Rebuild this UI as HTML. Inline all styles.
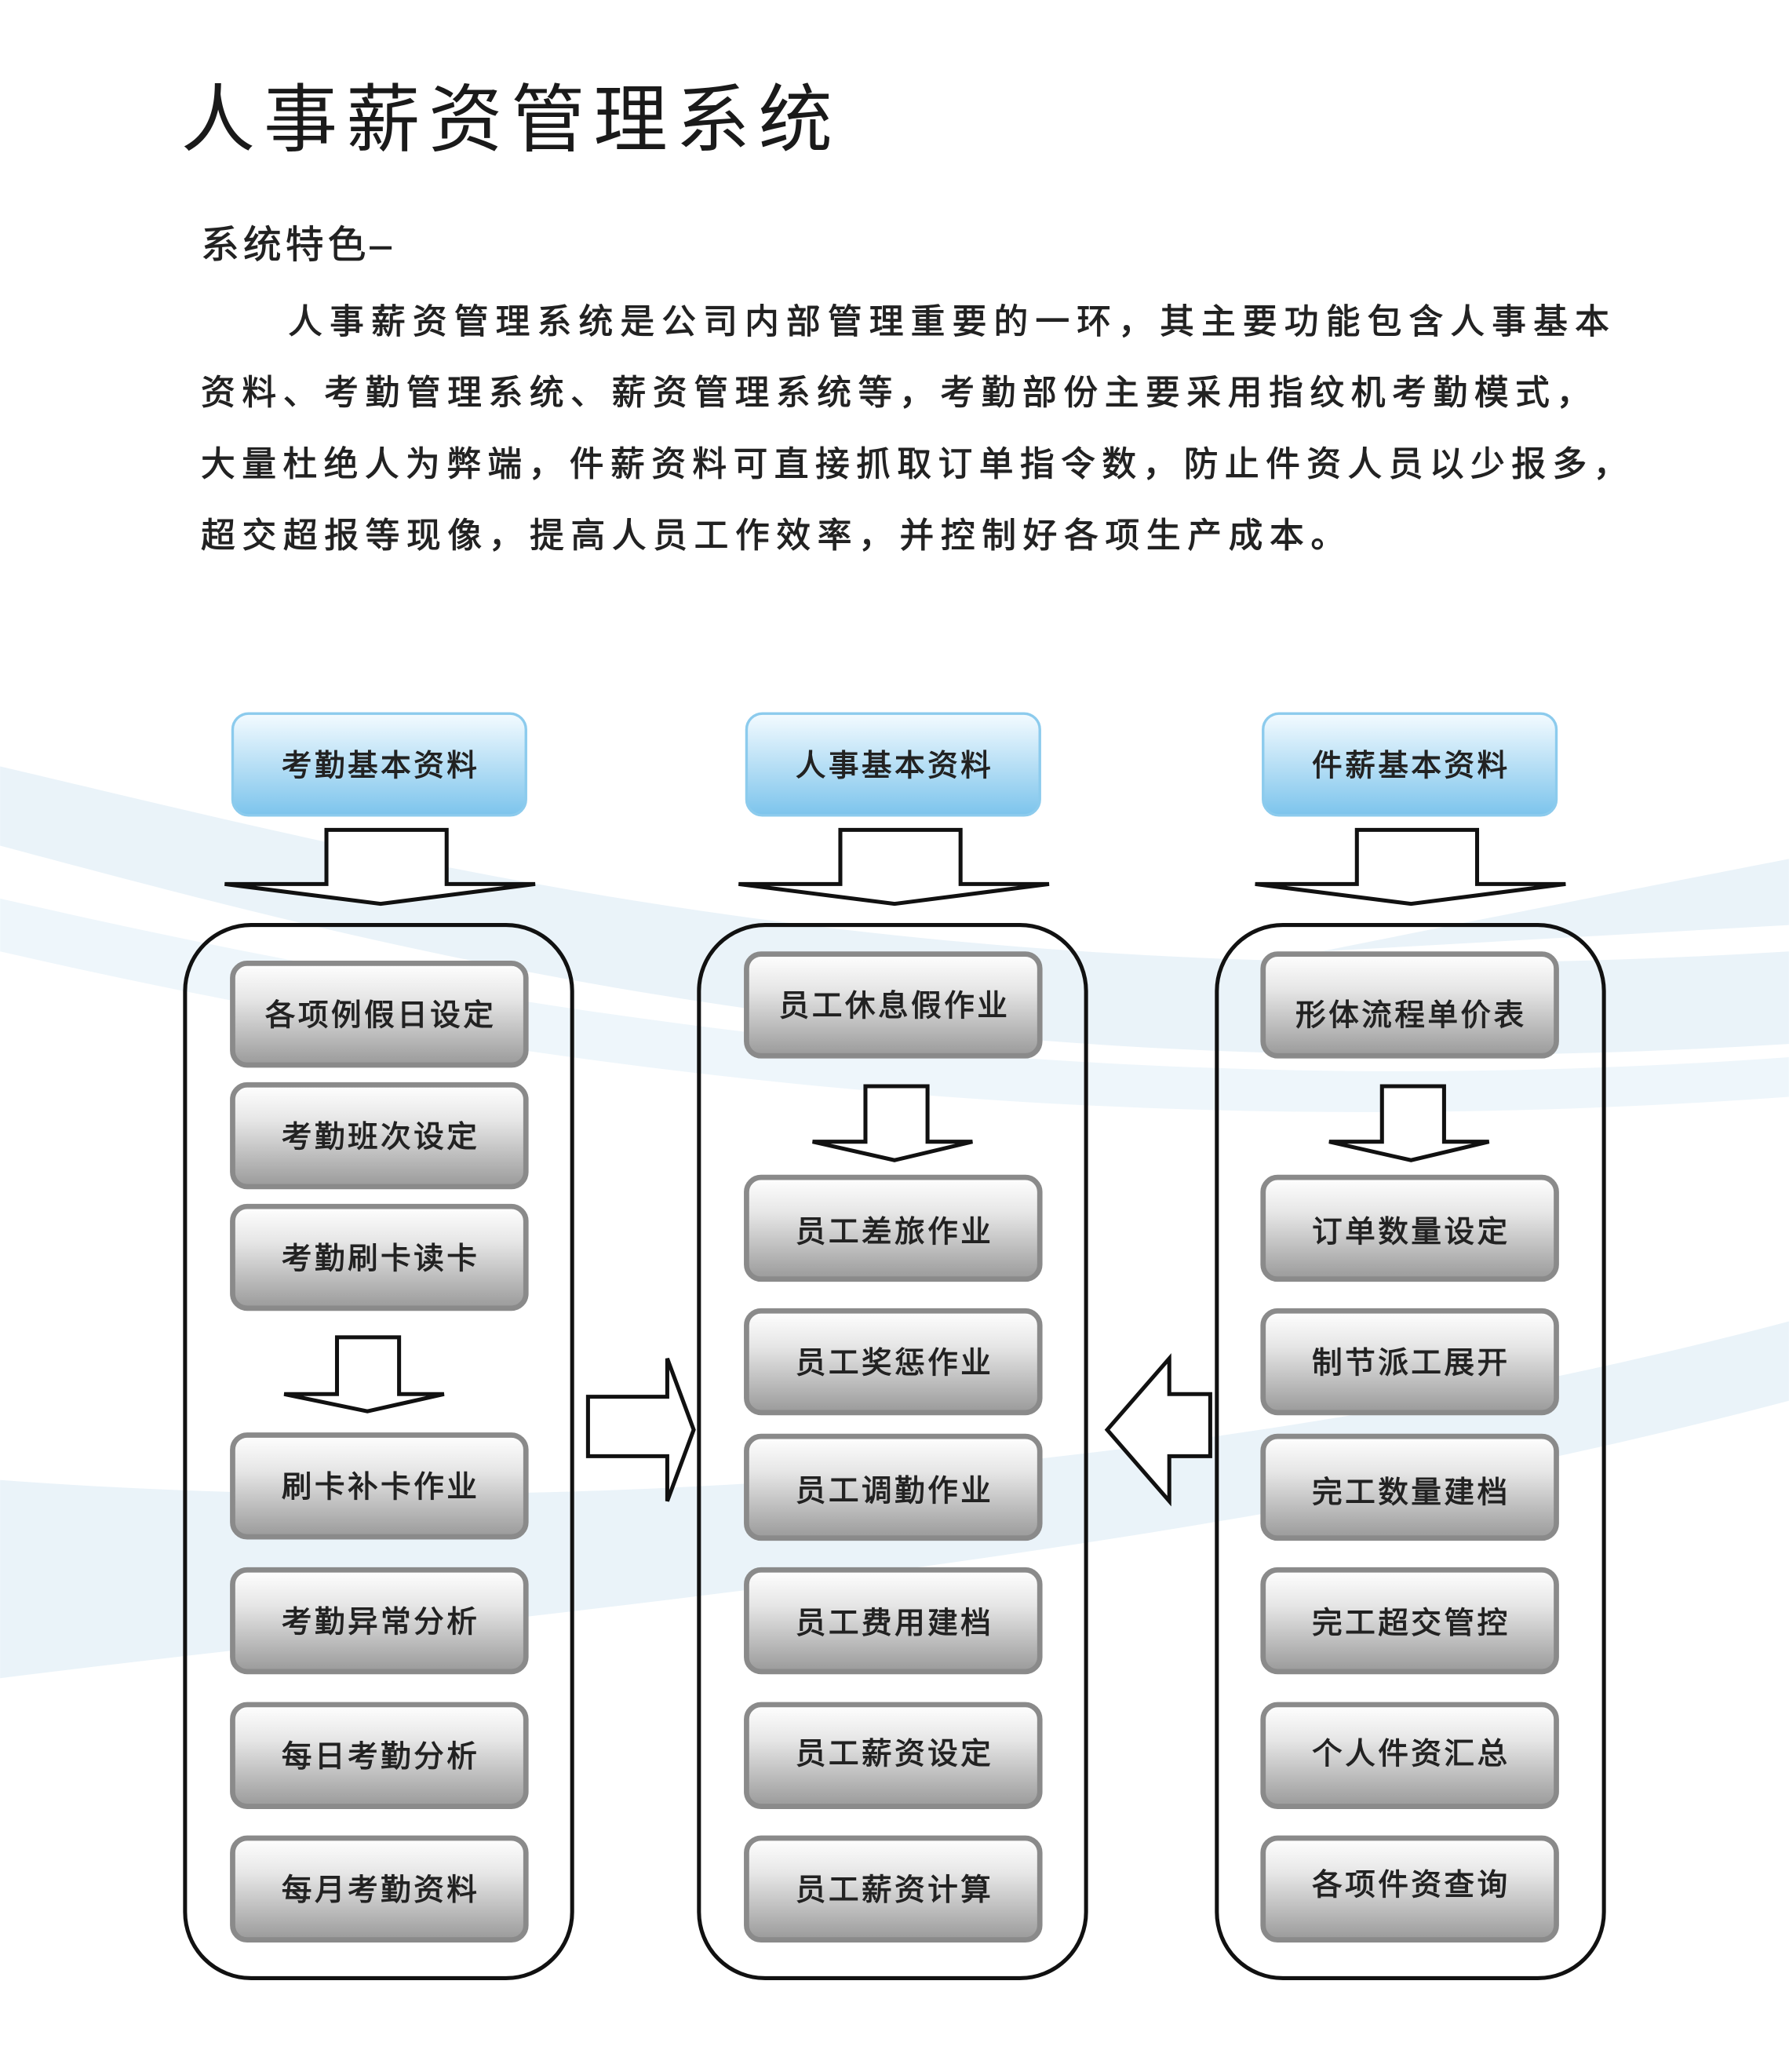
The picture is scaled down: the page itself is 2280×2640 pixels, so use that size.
<!DOCTYPE html>
<html><head><meta charset="utf-8"><style>
html,body{margin:0;padding:0;background:#fff;}
svg{display:block;}
text{font-family:"Liberation Sans","Noto Sans CJK SC",sans-serif;}
</style></head><body>
<svg width="2280" height="2640" viewBox="0 0 1354 1568" xmlns="http://www.w3.org/2000/svg">
<defs>
<linearGradient id="bl" x1="0" y1="0" x2="0" y2="1"><stop offset="0" stop-color="#f4fbff"/><stop offset="1" stop-color="#7cc4ec"/></linearGradient>
<linearGradient id="gr" x1="0" y1="0" x2="0" y2="1"><stop offset="0" stop-color="#ffffff"/><stop offset="0.35" stop-color="#e6e6e6"/><stop offset="1" stop-color="#9a9a9a"/></linearGradient>
</defs>
<path d="M0 580 C300 650 700 760 1354 720 L1354 790 C700 830 300 720 0 640 Z" fill="#eaf3f9"/>
<path d="M0 680 C350 760 800 840 1354 800 L1354 830 C800 870 350 800 0 720 Z" fill="#eef6fb"/>
<path d="M0 1120 C400 1150 900 1120 1354 1000 L1354 1060 C900 1180 400 1220 0 1270 Z" fill="#eaf3f9"/>
<path d="M1354 650 C1200 680 1100 700 1000 720 L1354 700 Z" fill="#eaf3f9"/>
<text x="137" y="110" font-size="56" fill="#1a1a1a" textLength="493" lengthAdjust="spacing">人事薪资管理系统</text>
<text x="152" y="195" font-size="29" fill="#222" letter-spacing="3" stroke="#222" stroke-width="0.5">系统特色–</text>
<g font-size="26" fill="#222" stroke="#222" stroke-width="0.6">
<text x="218" y="252" textLength="1000" lengthAdjust="spacing">人事薪资管理系统是公司内部管理重要的一环，其主要功能包含人事基本</text>
<text x="152" y="306" textLength="1052" lengthAdjust="spacing">资料、考勤管理系统、薪资管理系统等，考勤部份主要采用指纹机考勤模式，</text>
<text x="152" y="360" textLength="1080" lengthAdjust="spacing">大量杜绝人为弊端，件薪资料可直接抓取订单指令数，防止件资人员以少报多，</text>
<text x="152" y="414" textLength="866" lengthAdjust="spacing">超交超报等现像，提高人员工作效率，并控制好各项生产成本。</text>
</g>
<g stroke="#8ccbed" stroke-width="2" fill="url(#bl)">
<rect x="176" y="540" width="222" height="77" rx="12"/>
<rect x="565" y="540" width="222" height="77" rx="12"/>
<rect x="956" y="540" width="222" height="77" rx="12"/>
</g>
<g font-size="23" fill="#222" text-anchor="middle" stroke="#222" stroke-width="0.6" letter-spacing="2">
<text x="288" y="587">考勤基本资料</text>
<text x="677" y="587">人事基本资料</text>
<text x="1068" y="587">件薪基本资料</text>
</g>
<g fill="#fff" stroke="#111" stroke-width="3" stroke-linejoin="miter">
<path d="M247 628 H338 V669 L405 669 L288 684 L170 669 L247 669 Z"/>
<path d="M636 628 H727 V669 L794 669 L677 684 L559 669 L636 669 Z"/>
<path d="M1027 628 H1118 V669 L1185 669 L1068 684 L950 669 L1027 669 Z"/>
<path d="M255 1012 H302 V1055 L336 1055 L278 1068 L215 1055 L255 1055 Z"/>
<path d="M655 822 H702 V864 L736 864 L677 878 L615 864 L655 864 Z"/>
<path d="M1046 822 H1093 V864 L1127 864 L1068 878 L1006 864 L1046 864 Z"/>
<path d="M445 1057 H505 V1028 L525 1082 L505 1136 V1102 H445 Z"/>
<path d="M916 1055 H885 V1028 L838 1082 L885 1136 V1102 H916 Z"/>
</g>
<g fill="none" stroke="#111" stroke-width="3">
<rect x="140" y="700" width="293" height="797" rx="50"/>
<rect x="529" y="700" width="293" height="797" rx="50"/>
<rect x="921" y="700" width="293" height="797" rx="50"/>
</g>
<g fill="url(#gr)" stroke="#8a8a8a" stroke-width="4">
<rect x="176" y="729" width="222" height="77" rx="11"/>
<rect x="176" y="821" width="222" height="77" rx="11"/>
<rect x="176" y="913" width="222" height="77" rx="11"/>
<rect x="176" y="1086" width="222" height="77" rx="11"/>
<rect x="176" y="1188" width="222" height="77" rx="11"/>
<rect x="176" y="1290" width="222" height="77" rx="11"/>
<rect x="176" y="1391" width="222" height="77" rx="11"/>
<rect x="565" y="722" width="222" height="77" rx="11"/>
<rect x="565" y="891" width="222" height="77" rx="11"/>
<rect x="565" y="992" width="222" height="77" rx="11"/>
<rect x="565" y="1087" width="222" height="77" rx="11"/>
<rect x="565" y="1188" width="222" height="77" rx="11"/>
<rect x="565" y="1290" width="222" height="77" rx="11"/>
<rect x="565" y="1391" width="222" height="77" rx="11"/>
<rect x="956" y="722" width="222" height="77" rx="11"/>
<rect x="956" y="891" width="222" height="77" rx="11"/>
<rect x="956" y="992" width="222" height="77" rx="11"/>
<rect x="956" y="1087" width="222" height="77" rx="11"/>
<rect x="956" y="1188" width="222" height="77" rx="11"/>
<rect x="956" y="1290" width="222" height="77" rx="11"/>
<rect x="956" y="1391" width="222" height="77" rx="11"/>
</g>
<g font-size="23" fill="#222" text-anchor="middle" stroke="#222" stroke-width="0.6" letter-spacing="2">
<text x="288" y="776">各项例假日设定</text>
<text x="288" y="868">考勤班次设定</text>
<text x="288" y="960">考勤刷卡读卡</text>
<text x="288" y="1133">刷卡补卡作业</text>
<text x="288" y="1235">考勤异常分析</text>
<text x="288" y="1337">每日考勤分析</text>
<text x="288" y="1438">每月考勤资料</text>
<text x="677" y="769">员工休息假作业</text>
<text x="677" y="940">员工差旅作业</text>
<text x="677" y="1039">员工奖惩作业</text>
<text x="677" y="1136">员工调勤作业</text>
<text x="677" y="1236">员工费用建档</text>
<text x="677" y="1335">员工薪资设定</text>
<text x="677" y="1438">员工薪资计算</text>
<text x="1068" y="776">形体流程单价表</text>
<text x="1068" y="940">订单数量设定</text>
<text x="1068" y="1039">制节派工展开</text>
<text x="1068" y="1137">完工数量建档</text>
<text x="1068" y="1236">完工超交管控</text>
<text x="1068" y="1335">个人件资汇总</text>
<text x="1068" y="1434">各项件资查询</text>
</g>
</svg>
</body></html>
